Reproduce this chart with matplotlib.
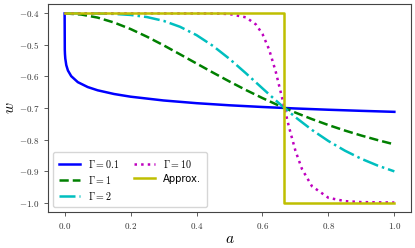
import matplotlib
matplotlib.use('Agg')
import matplotlib.pyplot as plt

plt.rcParams['mathtext.fontset'] = 'cm'

# values
a_g01 = [0, 0.0005, 0.001, 0.002, 0.005, 0.01, 0.02, 0.04, 0.07, 0.1, 0.15, 0.2,
         0.3, 0.4, 0.5, 0.6, 0.7, 0.8, 0.9, 1.0]
w_g01 = [-0.4, -0.515, -0.5285, -0.543, -0.564, -0.581, -0.599, -0.618, -0.6335,
         -0.6438, -0.6556, -0.6641, -0.6761, -0.6847, -0.6914, -0.6968, -0.7015,
         -0.7055, -0.709, -0.7122]

a_grid = [0, 0.05, 0.1, 0.15, 0.2, 0.25, 0.3, 0.35, 0.4, 0.45, 0.5, 0.55, 0.6,
          0.65, 0.7, 0.75, 0.8, 0.85, 0.9, 0.95, 1.0]
w_g1 = [-0.4, -0.4034, -0.4132, -0.4289, -0.4495, -0.474, -0.501, -0.5297, -0.5588,
        -0.5878, -0.616, -0.643, -0.6685, -0.6924, -0.7146, -0.7352, -0.7541,
        -0.7715, -0.7874, -0.802, -0.8154]
w_g2 = [-0.4, -0.4, -0.4003, -0.4015, -0.4048, -0.4116, -0.4236, -0.4424, -0.4688,
        -0.5031, -0.5442, -0.59, -0.6377, -0.6848, -0.7292, -0.7694, -0.8048,
        -0.8353, -0.8612, -0.8829, -0.901]

a_g10 = [0, 0.1, 0.2, 0.3, 0.4, 0.45, 0.5, 0.55, 0.58, 0.6, 0.62, 0.64, 0.66, 0.68,
         0.7, 0.72, 0.75, 0.8, 0.85, 0.9, 1.0]
w_g10 = [-0.4, -0.4, -0.4, -0.4, -0.4, -0.4002, -0.4019, -0.4125, -0.4349, -0.4651,
         -0.5139, -0.5839, -0.6699, -0.7586, -0.8358, -0.894, -0.948, -0.9848,
         -0.9954, -0.9985, -0.9998]

a_apx = [0, 2/3, 2/3, 1.0]
w_apx = [-0.4, -0.4, -1.0, -1.0]

xticks = [0.0, 0.2, 0.4, 0.6, 0.8, 1.0]
yticks = [-1.0, -0.9, -0.8, -0.7, -0.6, -0.5, -0.4]

fig = plt.figure(figsize=(4.15, 2.48), dpi=100)
ax = fig.add_axes([0.116, 0.145, 0.874, 0.839])

ax.plot(a_g01, w_g01, color='b', lw=1.8, ls='-', label=r'$\Gamma{=}0.1$')
ax.plot(a_grid, w_g1, color='g', lw=1.8, ls='--', label=r'$\Gamma{=}1$')
ax.plot(a_grid, w_g2, color='c', lw=1.8, ls='-.', label=r'$\Gamma{=}2$')
ax.plot(a_g10, w_g10, color='m', lw=1.8, ls=':', label=r'$\Gamma{=}10$')
ax.plot(a_apx, w_apx, color='y', lw=1.8, ls='-', label='Approx.')

ax.set_xticks(xticks, labels=['$%.1f$' % t for t in xticks], fontsize=6.5)
ax.set_yticks(yticks, labels=['$%.1f$' % t for t in yticks], fontsize=6.5)
ax.tick_params(length=3, width=0.6, colors='#444444', labelcolor='#333333')
for s in ax.spines.values():
    s.set_color('#444444')
    s.set_linewidth(0.8)

ax.set_xlabel('$a$', fontsize=11, labelpad=0)
ax.set_ylabel('$w$', fontsize=11, labelpad=1)
ax.legend(loc='lower left', ncol=2, fontsize=7.2, handlelength=2.1, columnspacing=1.5,
          labelspacing=0.4, borderpad=0.55)

fig.savefig('out.png', dpi=100)
